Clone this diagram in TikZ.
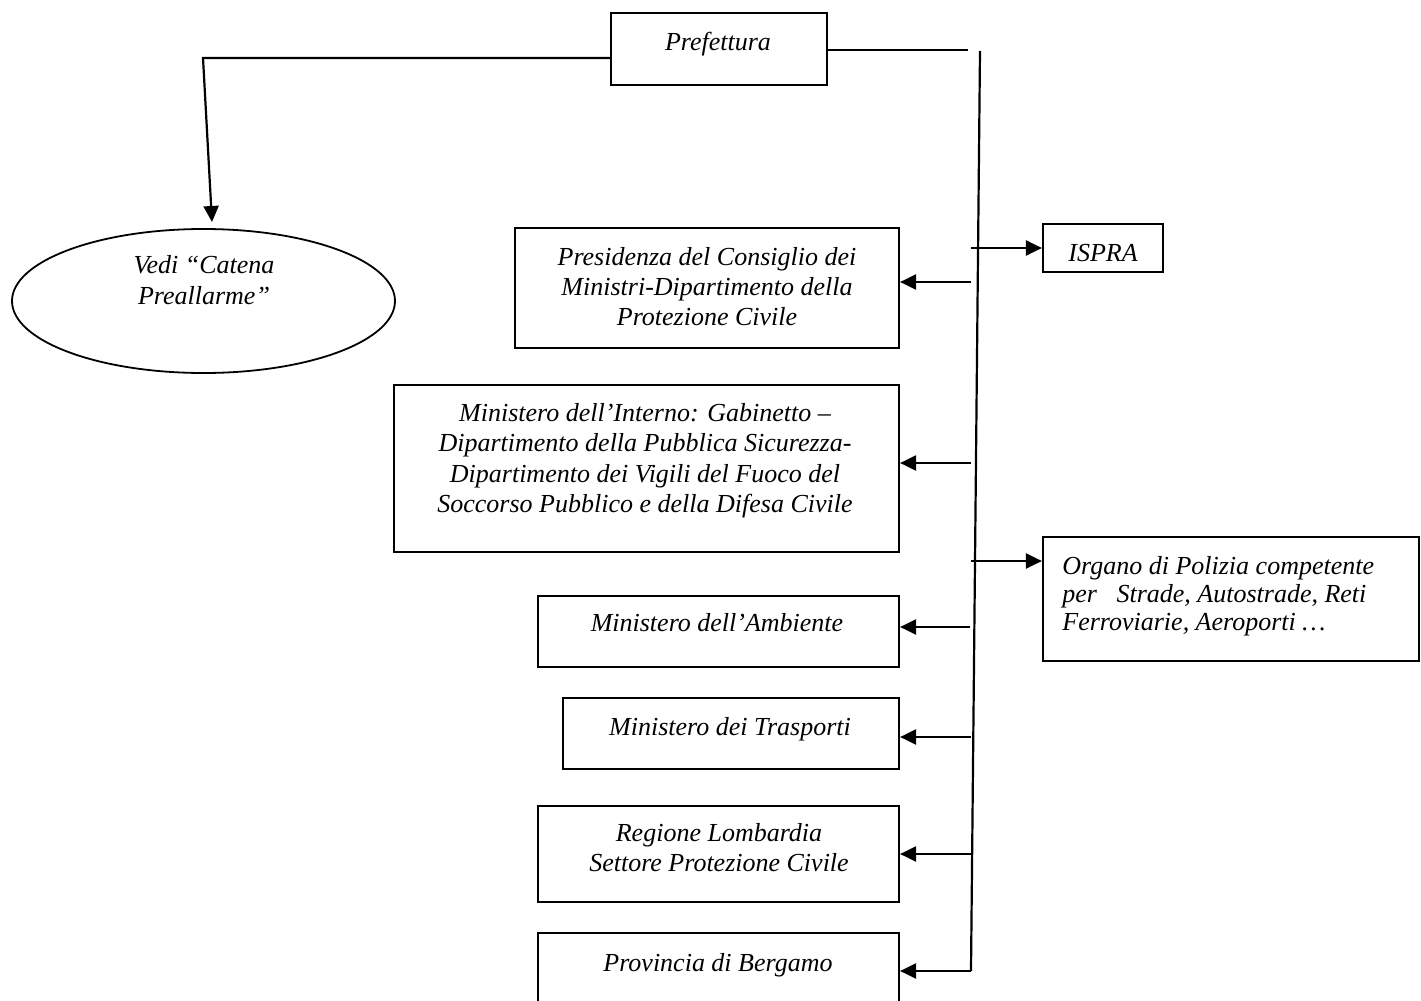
\documentclass[tikz,border=0pt]{standalone}
\usepackage{fontspec}
\setmainfont{Liberation Serif}
\usetikzlibrary{arrows.meta,fit,shapes.geometric}
\newcommand{\myTop}{\rule{0pt}{10pt}}
\begin{document}
\begin{tikzpicture}[x=0.5pt,y=-0.5pt,
  box/.style={draw,line width=1.1pt,inner sep=0pt},
  txt/.style={font=\fontsize{13}{15}\selectfont\itshape,align=center,anchor=north,inner sep=0pt},
  link/.style={line width=1.1pt},
  ar/.style={line width=1.1pt,-{Triangle[length=8pt,width=7.5pt]}}]
\useasboundingbox (0,0) rectangle (1421,1001);
\clip (0,0) rectangle (1421,1001);
% boxes
\node[box,fit={(611,13) (827,85)}] (pref) {};
\node[box,fit={(1043,224) (1163,272)}] (ispra) {};
\node[box,fit={(515,228) (899,348)}] (pres) {};
\node[box,fit={(394,385) (899,552)}] (interno) {};
\node[box,fit={(1043,537) (1419,661)}] (organo) {};
\node[box,fit={(538,596) (899,667)}] (amb) {};
\node[box,fit={(563,698) (899,769)}] (tras) {};
\node[box,fit={(538,806) (899,902)}] (reg) {};
\node[box,fit={(538,933) (899,1012)}] (prov) {};
\node[draw,ellipse,line width=0.9pt,inner sep=0pt,minimum width=191.5pt,minimum height=72pt] (ell) at (203.5,301) {};
% texts
\node[txt] (tpref) at (718,30) {\myTop Prefettura};
\node[txt,font=\fontsize{13}{15.5}\selectfont\itshape] (tell) at (204,253) {\myTop Vedi “Catena\\Preallarme”};
\node[txt] (tispra) at (1103,241) {\myTop ISPRA};
\node[txt] (tpres) at (707,245) {\myTop Presidenza del Consiglio dei\\Ministri-Dipartimento della\\Protezione Civile};
\node[txt,font=\fontsize{13}{15.2}\selectfont\itshape] (tinterno) at (645,401) {\myTop Ministero dell’Interno: Gabinetto –\\Dipartimento della Pubblica Sicurezza-\\Dipartimento dei Vigili del Fuoco del\\Soccorso Pubblico e della Difesa Civile};
\node[txt,font=\fontsize{13}{14}\selectfont\itshape,align=left,anchor=north west] (torgano) at (1062,554) {\myTop Organo di Polizia competente\\per\ \ \ Strade, Autostrade, Reti\\Ferroviarie, Aeroporti …};
\node[txt] (tamb) at (717,611) {\myTop Ministero dell’Ambiente};
\node[txt] (ttras) at (730,715) {\myTop Ministero dei Trasporti};
\node[txt] (treg) at (719,821) {\myTop Regione Lombardia\\Settore Protezione Civile};
\node[txt] (tprov) at (718,951) {\myTop Provincia di Bergamo};
% connector coordinates
\coordinate (pe) at (968,50);
\coordinate (ttop) at (980,51);
\coordinate (tbot) at (971,971);
\coordinate (lc) at (203,58);
\coordinate (et) at (212,222);
\coordinate (b1) at (971,248);
\coordinate (b2) at (971,282);
\coordinate (b3) at (971,463);
\coordinate (b4) at (971,561);
\coordinate (b5) at (970,627);
\coordinate (b6) at (971,737);
\coordinate (b7) at (971,854);
% connectors
\draw[link] (pref.east |- pe) -- (pe);
\draw[link] (ttop) -- (tbot);
\draw[ar] (pref.west |- lc) -- (lc) -- (et);
\draw[ar] (b1) -- (ispra.west |- b1);
\draw[ar] (b2) -- (pres.east |- b2);
\draw[ar] (b3) -- (interno.east |- b3);
\draw[ar] (b4) -- (organo.west |- b4);
\draw[ar] (b5) -- (amb.east |- b5);
\draw[ar] (b6) -- (tras.east |- b6);
\draw[ar] (b7) -- (reg.east |- b7);
\draw[ar] (tbot) -- (prov.east |- tbot);
\end{tikzpicture}
\end{document}
